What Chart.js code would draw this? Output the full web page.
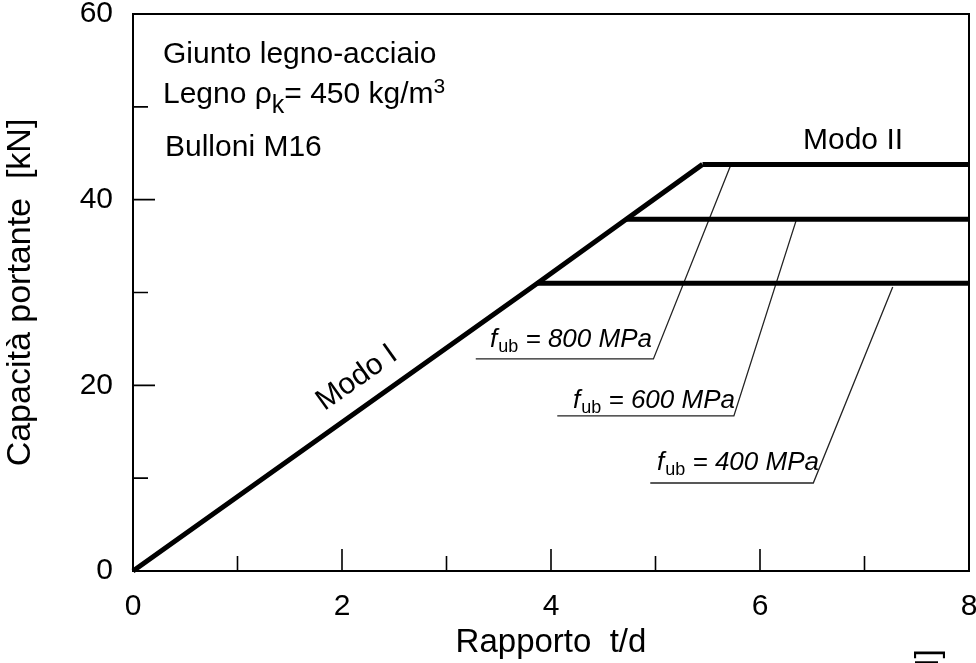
<!DOCTYPE html>
<html><head><meta charset="utf-8">
<script src="https://cdn.jsdelivr.net/npm/chart.js@4/dist/chart.umd.min.js"></script>
<style>html,body{margin:0;padding:0;background:#fff;}#wrap{width:976px;height:663px;}</style>
</head><body><div id="wrap"><canvas id="c" width="976" height="663"></canvas></div>
<script>
const FONT = '"Liberation Sans", Arial, Helvetica, sans-serif';

// ---- data ----
const strengthLabels = ['800', '600', '400'];      // f_ub [MPa]
const plateauLoad = [43.8, 37.9, 31.0];            // Modo II capacity [kN]
const kinkRatio = [5.45, 4.72, 3.87];              // t/d where Modo I meets Modo II
const maxRatio = 8;
const xTickValues = [0, 2, 4, 6, 8];
const yTickValues = [0, 20, 40, 60];
const xMinorValues = [1, 3, 5, 7];
const yMinorValues = [10, 30, 50];
const leader800 = [[3.28, 22.84], [4.98, 22.84], [5.73, 44.0]];
const leader600 = [[4.06, 16.70], [5.75, 16.70], [6.35, 37.9]];
const leader400 = [[4.95, 9.48], [6.51, 9.48], [7.27, 30.6]];

// ---- datasets ----
const modeIPoints = [{x: 0, y: 0}];
[2, 1, 0].forEach(i => modeIPoints.push({x: kinkRatio[i], y: plateauLoad[i]}));
const thick = {showLine: true, borderColor: '#000', borderWidth: 5, pointRadius: 0, clip: false,
  borderCapStyle: 'butt', borderJoinStyle: 'miter', tension: 0};
const datasets = [Object.assign({label: 'Modo I', data: modeIPoints}, thick)];
plateauLoad.forEach((v, i) => datasets.push(Object.assign({label: 'Modo II ' + strengthLabels[i],
  data: [{x: kinkRatio[i], y: v}, {x: maxRatio, y: v}]}, thick)));
[leader800, leader600, leader400].forEach((L, i) => datasets.push({label: 'leader ' + strengthLabels[i],
  data: L.map(p => ({x: p[0], y: p[1]})), showLine: true, borderColor: '#222', borderWidth: 1.3,
  pointRadius: 0, tension: 0}));

function runs(ctx, x, base, parts) {
  parts.forEach(p => {
    ctx.font = p.f;
    ctx.fillText(p.t, x, base + (p.dy || 0));
    x += ctx.measureText(p.t).width + (p.gap || 0);
  });
}

const deco = {
  id: 'deco',
  afterDatasetsDraw(chart) {
    const {ctx, chartArea: a, scales: {x, y}} = chart;
    ctx.save();
    ctx.strokeStyle = '#000';
    ctx.lineWidth = 2;
    ctx.strokeRect(a.left, a.top, a.right - a.left, a.bottom - a.top);
    ctx.lineWidth = 1.6;
    ctx.beginPath();
    xTickValues.forEach(v => { const p = x.getPixelForValue(v); ctx.moveTo(p, a.bottom); ctx.lineTo(p, a.bottom - 22); });
    xMinorValues.forEach(v => { const p = x.getPixelForValue(v); ctx.moveTo(p, a.bottom); ctx.lineTo(p, a.bottom - 15); });
    yTickValues.forEach(v => { const p = y.getPixelForValue(v); ctx.moveTo(a.left, p); ctx.lineTo(a.left + 22, p); });
    yMinorValues.forEach(v => { const p = y.getPixelForValue(v); ctx.moveTo(a.left, p); ctx.lineTo(a.left + 15, p); });
    ctx.stroke();

    ctx.fillStyle = '#000';
    ctx.textBaseline = 'alphabetic';
    ctx.textAlign = 'left';
    const F = '30px ' + FONT;
    runs(ctx, 163, 63, [{t: 'Giunto legno-acciaio', f: F}]);
    runs(ctx, 163, 103, [
      {t: 'Legno ', f: F}, {t: '\u03C1', f: F},
      {t: 'k', f: '25px ' + FONT, dy: 10},
      {t: '= 450 kg/m', f: F},
      {t: '3', f: '21px ' + FONT, dy: -10}]);
    runs(ctx, 165, 156, [{t: 'Bulloni M16', f: F}]);
    runs(ctx, 803, 149, [{t: 'Modo II', f: F}]);

    // Modo I rotated along the line
    const x0 = x.getPixelForValue(0), y0 = y.getPixelForValue(0);
    const x1 = x.getPixelForValue(kinkRatio[0]), y1 = y.getPixelForValue(plateauLoad[0]);
    const ang = Math.atan2(y1 - y0, x1 - x0);
    ctx.save();
    ctx.translate(357, 378);
    ctx.rotate(ang);
    ctx.font = F; ctx.textAlign = 'center'; ctx.textBaseline = 'middle';
    ctx.fillText('Modo I', 0, 0);
    ctx.restore();

    // f_ub labels
    const FI = 'italic 26px ' + FONT, FS = '18px ' + FONT;
    const lab = [[490, 347], [573, 408], [657, 470]];
    strengthLabels.forEach((s, i) => {
      runs(ctx, lab[i][0], lab[i][1], [
        {t: 'f', f: FI, gap: 1}, {t: 'ub', f: FS, dy: 5},
        {t: ' = ' + s + ' MPa', f: FI}]);
    });

    // stray cut-off label at bottom right
    ctx.save();
    ctx.translate(938, 649);
    ctx.rotate(-Math.PI / 2);
    ctx.font = '34px ' + FONT; ctx.textAlign = 'right'; ctx.textBaseline = 'alphabetic';
    ctx.fillText('[kN]', 0, 0);
    ctx.restore();
    ctx.restore();
  }
};

new Chart(document.getElementById('c'), {
  type: 'scatter',
  data: {datasets},
  plugins: [deco],
  options: {
    responsive: false, animation: false, devicePixelRatio: 1,
    layout: {padding: {top: 14, right: 7, left: 0, bottom: 0}},
    plugins: {legend: {display: false}, tooltip: {enabled: false}},
    scales: {
      x: {
        type: 'linear', min: 0, max: 8,
        afterBuildTicks: s => { s.ticks = xTickValues.map(v => ({value: v})); },
        ticks: {font: {family: FONT, size: 30}, color: '#000', padding: 18, maxRotation: 0, autoSkip: false},
        grid: {display: false, drawTicks: false},
        border: {display: false},
        title: {display: true, text: 'Rapporto  t/d', color: '#000', font: {family: FONT, size: 33}, padding: 0},
        afterFit: s => { s.height = 92; s.paddingLeft = 0; s.paddingRight = 0; }
      },
      y: {
        type: 'linear', min: 0, max: 60,
        afterBuildTicks: s => { s.ticks = yTickValues.map(v => ({value: v})); },
        ticks: {font: {family: FONT, size: 30}, color: '#000', padding: 20, autoSkip: false},
        grid: {display: false, drawTicks: false},
        border: {display: false},
        title: {display: true, text: 'Capacit\u00e0 portante  [kN]', color: '#000', font: {family: FONT, size: 34}, padding: 0},
        afterFit: s => { s.width = 133; s.paddingTop = 0; s.paddingBottom = 0; }
      }
    }
  }
});
</script></body></html>
